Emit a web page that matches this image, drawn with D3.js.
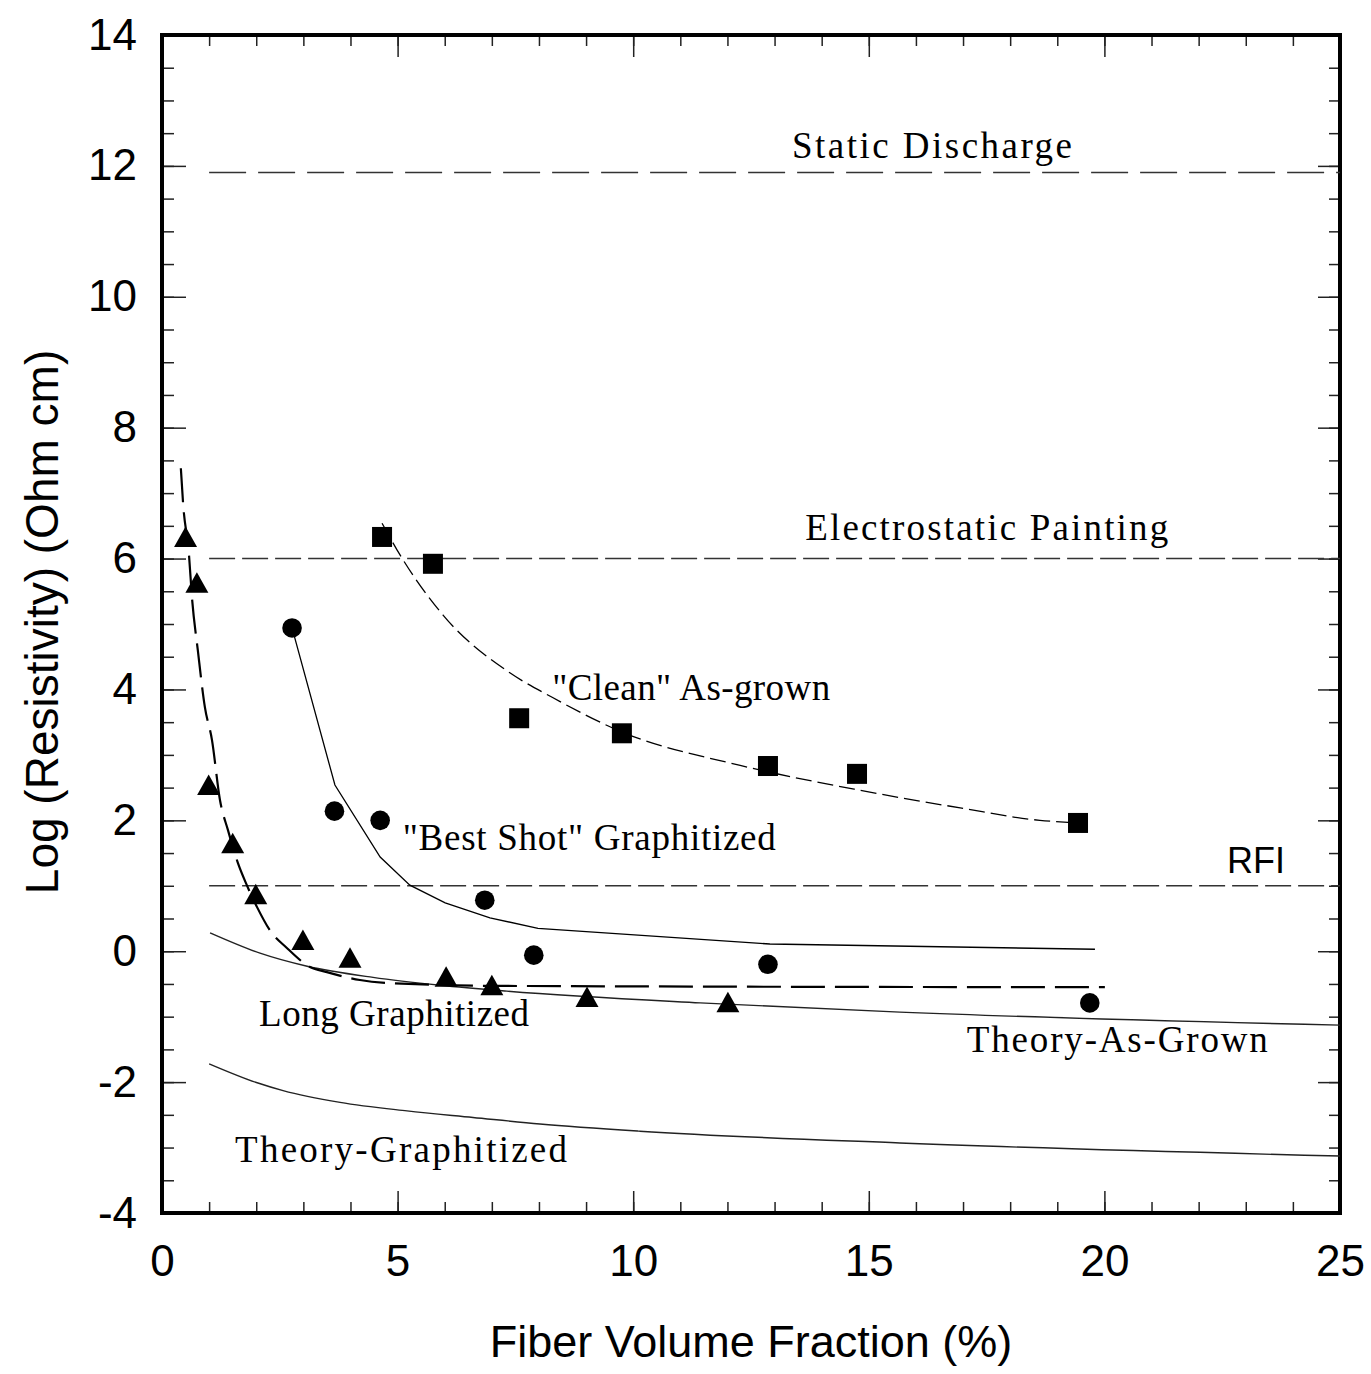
<!DOCTYPE html>
<html>
<head>
<meta charset="utf-8">
<script src="https://cdn.jsdelivr.net/npm/d3@7"></script>
<style>
  body { margin: 0; background: #fff; }
  svg { display: block; }
</style>
</head>
<body>
<script>
// "Clean" As-grown (squares) and its fitted curve
const cleanX = [4.67, 5.75, 7.58, 9.76, 12.86, 14.75, 19.44]
const cleanY = [6.33, 5.92, 3.56, 3.33, 2.83, 2.71, 1.96]
const cleanFitX = [4.67, 4.99, 5.96, 7.39, 8.28, 9.76, 12.27, 14.81, 16.94, 18.63, 19.44]
const cleanFitY = [6.54, 6.13, 5.14, 4.25, 3.88, 3.35, 2.84, 2.46, 2.19, 2.00, 1.96]

// "Best Shot" Graphitized (circles) and its line
const bestX = [2.76, 3.66, 4.63, 6.85, 7.89, 12.86, 19.69]
const bestY = [4.94, 2.14, 2.00, 0.78, -0.06, -0.20, -0.79]
const bestFitX = [2.76, 3.67, 4.63, 5.26, 6.01, 6.96, 7.98, 12.90, 19.80]
const bestFitY = [4.94, 2.54, 1.44, 1.01, 0.74, 0.51, 0.35, 0.11, 0.03]

// Long Graphitized (triangles) and its dashed fit
const longX = [0.50, 0.74, 0.99, 1.50, 1.99, 2.99, 3.99, 6.03, 7.00, 9.02, 12.01]
const longY = [6.33, 5.63, 2.54, 1.65, 0.87, 0.17, -0.10, -0.39, -0.52, -0.70, -0.78]
const longFitX = [0.40, 0.45, 0.57, 0.64, 0.76, 0.91, 1.06, 1.23, 1.40, 1.61, 1.80, 2.02, 2.29, 2.65, 3.14, 3.50, 4.20, 4.90, 7.17, 20.01]
const longFitY = [7.38, 6.82, 6.08, 5.37, 4.60, 3.73, 3.23, 2.31, 1.85, 1.35, 1.01, 0.67, 0.32, 0.05, -0.24, -0.32, -0.44, -0.49, -0.53, -0.55]

// theory curves
const theoryGrownX = [1.02, 2.08, 3.08, 4.48, 5.90, 7.32, 11.42, 15.66, 25.0]
const theoryGrownY = [0.28, -0.03, -0.23, -0.40, -0.52, -0.61, -0.79, -0.93, -1.13]
const theoryGraphX = [1.00, 2.02, 2.57, 3.78, 5.20, 6.60, 8.02, 10.14, 15.66, 25.0]
const theoryGraphY = [-1.72, -2.01, -2.13, -2.31, -2.44, -2.54, -2.64, -2.75, -2.93, -3.13]

// application thresholds
const limitNames = ['Static Discharge', 'Electrostatic Painting', 'RFI']
const limitValues = [11.9, 6.0, 1.0]
const limitStart = [1.0, 1.0, 1.0]

// axis ticks
const xMajor = [0, 5, 10, 15, 20, 25]
const yMajor = [-4, -2, 0, 2, 4, 6, 8, 10, 12, 14]

const zip = (xs, ys) => xs.map((x, i) => [x, ys[i]])

const w = 1371
const h = 1374
const pL = 162, pR = 1340, pT = 35, pB = 1213

const xScale = d3.scaleLinear().domain([0, 25]).range([pL, pR])
const yScale = d3.scaleLinear().domain([-4, 14]).range([pB, pT])

const xMinor = d3.range(0, 25.01, 1)
const yMinor = d3.range(-4, 14.01, 0.5)

const svg = d3.select('body').append('svg')
    .attr('width', w)
    .attr('height', h)

// ticks on all four sides, pointing inward
function ticks(axisFn, scale, values, size, transform, labels, pad) {
    const g = svg.append('g')
        .attr('transform', transform)
        .call(axisFn(scale).tickValues(values).tickSize(-size)
            .tickPadding(pad || 0)
            .tickFormat(labels ? d => String(d) : ''))
    g.select('.domain').remove()
    g.selectAll('.tick line').attr('stroke', '#222').attr('stroke-width', 1.5)
    g.selectAll('text')
        .attr('font-family', 'Liberation Sans, Arial, sans-serif')
        .attr('font-size', 44)
        .attr('fill', '#000')
    return g
}
ticks(d3.axisBottom, xScale, xMinor, 11, `translate(0,${pB})`)
ticks(d3.axisBottom, xScale, xMajor, 22, `translate(0,${pB})`, true, 32)
ticks(d3.axisTop, xScale, xMinor, 11, `translate(0,${pT})`)
ticks(d3.axisTop, xScale, xMajor, 22, `translate(0,${pT})`)
ticks(d3.axisLeft, yScale, yMinor, 12, `translate(${pL},0)`)
ticks(d3.axisLeft, yScale, yMajor, 24, `translate(${pL},0)`, true, 25)
ticks(d3.axisRight, yScale, yMinor, 11, `translate(${pR},0)`)
ticks(d3.axisRight, yScale, yMajor, 22, `translate(${pR},0)`)

// frame
svg.append('rect')
    .attr('x', pL).attr('y', pT)
    .attr('width', pR - pL).attr('height', pB - pT)
    .attr('fill', 'none').attr('stroke', '#000').attr('stroke-width', 4)

// axis titles
svg.append('text')
    .attr('x', (pL + pR) / 2)
    .attr('y', 1357)
    .attr('text-anchor', 'middle')
    .attr('font-family', 'Liberation Sans, Arial, sans-serif')
    .attr('font-size', 45)
    .text('Fiber Volume Fraction (%)')

svg.append('text')
    .attr('transform', 'translate(58,622) rotate(-90)')
    .attr('text-anchor', 'middle')
    .attr('font-family', 'Liberation Sans, Arial, sans-serif')
    .attr('font-size', 46)
    .text('Log (Resistivity) (Ohm cm)')

// threshold lines
const limitDash = ['37,12', '26,7', '26,7']
svg.selectAll('.limit')
    .data(limitValues)
    .enter()
    .append('line')
    .attr('class', 'limit')
    .attr('x1', (d, i) => xScale(limitStart[i]))
    .attr('x2', xScale(25))
    .attr('y1', d => yScale(d))
    .attr('y2', d => yScale(d))
    .attr('stroke', '#333')
    .attr('stroke-width', 1.6)
    .attr('stroke-dasharray', (d, i) => limitDash[i])

const smooth = d3.line().x(d => xScale(d[0])).y(d => yScale(d[1])).curve(d3.curveMonotoneX)
const straight = d3.line().x(d => xScale(d[0])).y(d => yScale(d[1]))

function curve(data, gen, width, dash, color) {
    svg.append('path')
        .datum(data)
        .attr('d', gen)
        .attr('fill', 'none')
        .attr('stroke', color || '#000')
        .attr('stroke-width', width)
        .attr('stroke-dasharray', dash || null)
}
curve(zip(theoryGrownX, theoryGrownY), smooth, 1.4, null, '#222')
curve(zip(theoryGraphX, theoryGraphY), smooth, 1.4, null, '#222')
curve(zip(cleanFitX, cleanFitY), smooth, 1.3, '16,6')
curve(zip(bestFitX, bestFitY), straight, 1.3)
curve(zip(longFitX, longFitY), smooth, 2.2, '34,10')

// markers
svg.selectAll('.sq')
    .data(zip(cleanX, cleanY))
    .enter()
    .append('rect')
    .attr('x', d => xScale(d[0]) - 10)
    .attr('y', d => yScale(d[1]) - 10)
    .attr('width', 20).attr('height', 20)
    .attr('fill', '#000')

svg.selectAll('.dot')
    .data(zip(bestX, bestY))
    .enter()
    .append('circle')
    .attr('cx', d => xScale(d[0]))
    .attr('cy', d => yScale(d[1]))
    .attr('r', 9.8)
    .attr('fill', '#000')

svg.selectAll('.tri')
    .data(zip(longX, longY))
    .enter()
    .append('path')
    .attr('d', 'M0,-10.5L11.5,10L-11.5,10Z')
    .attr('transform', d => `translate(${xScale(d[0])},${yScale(d[1])})`)
    .attr('fill', '#000')

// annotations (left x, baseline y in data units; width in px)
const notes = [
    { t: 'Static Discharge', x: 13.37, y: 12.12, len: 280 },
    { t: 'Electrostatic Painting', x: 13.65, y: 6.28, len: 363 },
    { t: '"Clean" As-grown', x: 8.28, y: 3.84, len: 278 },
    { t: '"Best Shot" Graphitized', x: 5.11, y: 1.55, len: 373 },
    { t: 'Long Graphitized', x: 2.06, y: -1.14, len: 270 },
    { t: 'Theory-As-Grown', x: 17.08, y: -1.54, len: 301 },
    { t: 'Theory-Graphitized', x: 1.55, y: -3.22, len: 332 }
]
svg.selectAll('.note')
    .data(notes)
    .enter()
    .append('text')
    .attr('x', d => xScale(d.x))
    .attr('y', d => yScale(d.y))
    .attr('font-family', 'Liberation Serif, Times New Roman, serif')
    .attr('font-size', 37)
    .attr('textLength', d => d.len)
    .attr('lengthAdjust', 'spacing')
    .text(d => d.t)

svg.append('text')
    .attr('x', xScale(22.6))
    .attr('y', yScale(1.19))
    .attr('font-family', 'Liberation Sans, Arial, sans-serif')
    .attr('font-size', 36)
    .text('RFI')
</script>
</body>
</html>
